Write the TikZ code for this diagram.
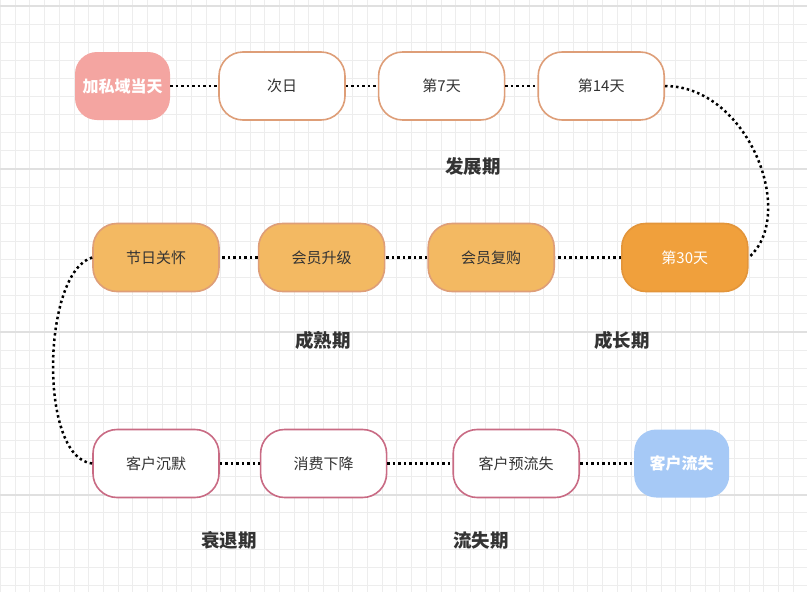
\documentclass[tikz,border=0pt]{standalone}
\usepackage{fontspec}
\setmainfont{Noto Sans CJK SC}
\usepackage{tikz}
\usetikzlibrary{positioning}

\definecolor{gridminor}{HTML}{EDEDED}
\definecolor{gridmajor}{HTML}{E0E0E0}
\definecolor{inkgray}{HTML}{333333}
\definecolor{peach}{HTML}{DE9E78}
\definecolor{salmon}{HTML}{F4A5A1}
\definecolor{apricot}{HTML}{F3B962}
\definecolor{tangerine}{HTML}{F0A03C}
\definecolor{tangerineline}{HTML}{E3953A}
\definecolor{rosewood}{HTML}{C96B84}
\definecolor{skyblue}{HTML}{A6C9F6}

\begin{document}
\begin{tikzpicture}[x=1pt, y=-1pt, node distance=32pt,
  stagebox/.style={rectangle, draw, line width=1.6pt, rounded corners=24pt, minimum width=126pt, minimum height=68pt, text=inkgray, font=\fontsize{15}{18}\selectfont},
  daybox/.style={stagebox, draw=peach, fill=white},
  carebox/.style={stagebox, draw=peach, fill=apricot},
  fadebox/.style={stagebox, draw=rosewood, fill=white},
  endbox/.style={rectangle, rounded corners=22pt, minimum width=95pt, minimum height=68pt, text=white, font=\fontsize{16}{19}\selectfont\bfseries},
  phase/.style={text=inkgray, font=\fontsize{18.5}{22}\selectfont\bfseries},
  dotline/.style={draw=black, line width=2.5pt, dash pattern=on 2.5pt off 3pt}]

\useasboundingbox (0,0) rectangle (807,592);
\fill[white] (0,0) rectangle (807,592);
\foreach \k in {0,...,55}
  \draw[gridminor, line width=0.8pt] ({0.5+14.68*\k},0) -- ({0.5+14.68*\k},592);
\foreach \k in {0,...,32}
  \draw[gridminor, line width=0.8pt] (0,{6+18.1*\k}) -- (807,{6+18.1*\k});
\foreach \k in {0,...,3}
  \draw[gridmajor, line width=1.3pt] (0,{6+163*\k}) -- (807,{6+163*\k});

\node (start) [endbox, fill=salmon] at (122.5,86) {加私域当天};
\node (day1) [daybox, right=48pt of start] {次日};
\node (day7) [daybox, right=of day1] {第7天};
\node (day14) [daybox, right=of day7] {第14天};

\node (care) [carebox] at (156,257.5) {节日关怀};
\node (upgrade) [carebox, right=38pt of care] {会员升级};
\node (rebuy) [carebox, right=42pt of upgrade] {会员复购};
\node (day30) [stagebox, draw=tangerineline, fill=tangerine, text=white, right=66pt of rebuy] {第30天};

\node (silent) [fadebox] at (156,463.5) {客户沉默};
\node (decline) [fadebox, right=40pt of silent] {消费下降};
\node (prechurn) [fadebox, right=65pt of decline] {客户预流失};
\node (churn) [endbox, fill=skyblue, right=54pt of prechurn] {客户流失};

\node (grow) [phase] at (473,166) {发展期};
\node (mature) [phase] at (323,340) {成熟期};
\node (rise) [phase] at (622,340) {成长期};
\node (fade) [phase] at (229,540) {衰退期};
\node (lost) [phase] at (481,540) {流失期};

\draw[dotline] (start) -- (day1);
\draw[dotline] (day1) -- (day7);
\draw[dotline] (day7) -- (day14);
\draw[dotline] (day14.east) .. controls (748,86) and (798,215) .. (day30.east);
\draw[dotline] (day30) -- (rebuy);
\draw[dotline] (rebuy) -- (upgrade);
\draw[dotline] (upgrade) -- (care);
\draw[dotline] (care.west) .. controls (42,272) and (38,458) .. (silent.west);
\draw[dotline] (silent) -- (decline);
\draw[dotline] (decline) -- (prechurn);
\draw[dotline] (prechurn) -- (churn);
\end{tikzpicture}
\end{document}
